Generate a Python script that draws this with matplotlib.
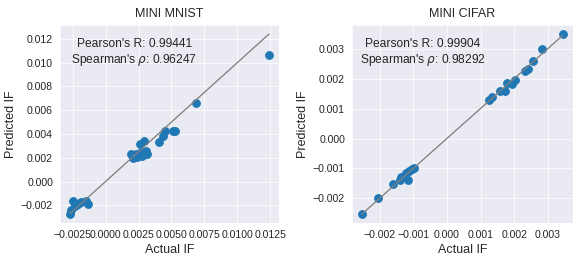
import numpy as np
import matplotlib
matplotlib.use("Agg")
import matplotlib.pyplot as plt
import seaborn as sns

sns.set_style("darkgrid")
plt.rcParams['font.family'] = ['Liberation Sans', 'DejaVu Sans']

# mini mnist: actual vs predicted influence
mnist_actual = [-0.0027, -0.00261, -0.00244, -0.00211, -0.00185, -0.00147, -0.00135, -0.00229,
                0.00259, 0.00292, 0.00196, 0.00208, 0.00239, 0.0028, 0.00305, 0.00318, 0.00272, 0.00229,
                0.00404, 0.00432, 0.0045, 0.00508, 0.00526, 0.00686, 0.0124]
mnist_pred = [-0.00273, -0.00237, -0.00162, -0.00189, -0.0017, -0.00162, -0.00189, -0.00203,
              0.00319, 0.00338, 0.00233, 0.002, 0.00208, 0.00213, 0.00255, 0.00233, 0.00247, 0.00228,
              0.00333, 0.00386, 0.00422, 0.00428, 0.00428, 0.00663, 0.01067]
mnist_xticks = [-0.0025, 0.0, 0.0025, 0.005, 0.0075, 0.01, 0.0125]
mnist_pearson = 0.99441
mnist_spearman = 0.96247

# mini cifar
cifar_actual = [-0.00252, -0.00204, -0.0016, -0.0014, -0.00137, -0.00116, -0.0012, -0.00112, -0.00105, -0.00098,
                0.00124, 0.00134, 0.00159, 0.00174, 0.00178, 0.00193, 0.00203, 0.00232, 0.00242,
                0.00257, 0.00284, 0.00345]
cifar_pred = [-0.00251, -0.00198, -0.00153, -0.00137, -0.00127, -0.00137, -0.00115, -0.00108, -0.00102, -0.00099,
              0.00127, 0.00139, 0.0016, 0.00158, 0.00186, 0.00182, 0.00197, 0.00224, 0.00232,
              0.00258, 0.003, 0.00349]
cifar_xticks = [-0.002, -0.001, 0.0, 0.001, 0.002, 0.003]
cifar_pearson = 0.99904
cifar_spearman = 0.98292

fig = plt.figure(figsize=(581 / 72, 262 / 72), dpi=72)
ax1 = fig.add_axes([60 / 581, 1 - 223 / 262, 219 / 581, 198 / 262])
ax2 = fig.add_axes([352 / 581, 1 - 223 / 262, 221 / 581, 198 / 262])

panels = [(ax1, "MINI MNIST", mnist_actual, mnist_pred, mnist_pearson, mnist_spearman, mnist_xticks, "%.4f", 0.34),
          (ax2, "MINI CIFAR", cifar_actual, cifar_pred, cifar_pearson, cifar_spearman, cifar_xticks, "%.3f", 0.32)]

for ax, name, act, pred, pr, sr, xt, fmt, tx in panels:
    lo, hi = min(act), max(act)
    ax.scatter(act, pred, s=60, color='#1f77b4', zorder=2)
    ax.plot([lo, hi], [lo, hi], color='gray', lw=1.3, zorder=3)
    ax.set_xticks(xt)
    ax.set_xticklabels([(fmt % v).replace('-', '\u2212') for v in xt])
    ax.set_title(name, fontsize=12.5, pad=8)
    ax.set_xlabel("Actual IF", fontsize=12.5)
    ax.set_ylabel("Predicted IF", fontsize=12.5)
    ax.tick_params(labelsize=10.5)
    ax.text(tx, 0.935, "Pearson's R: %.5f\nSpearman's $\\rho$: %.5f" % (pr, sr),
            transform=ax.transAxes, ha='center', va='top', fontsize=12, multialignment='center')

fig.savefig("out.png", dpi=72)
